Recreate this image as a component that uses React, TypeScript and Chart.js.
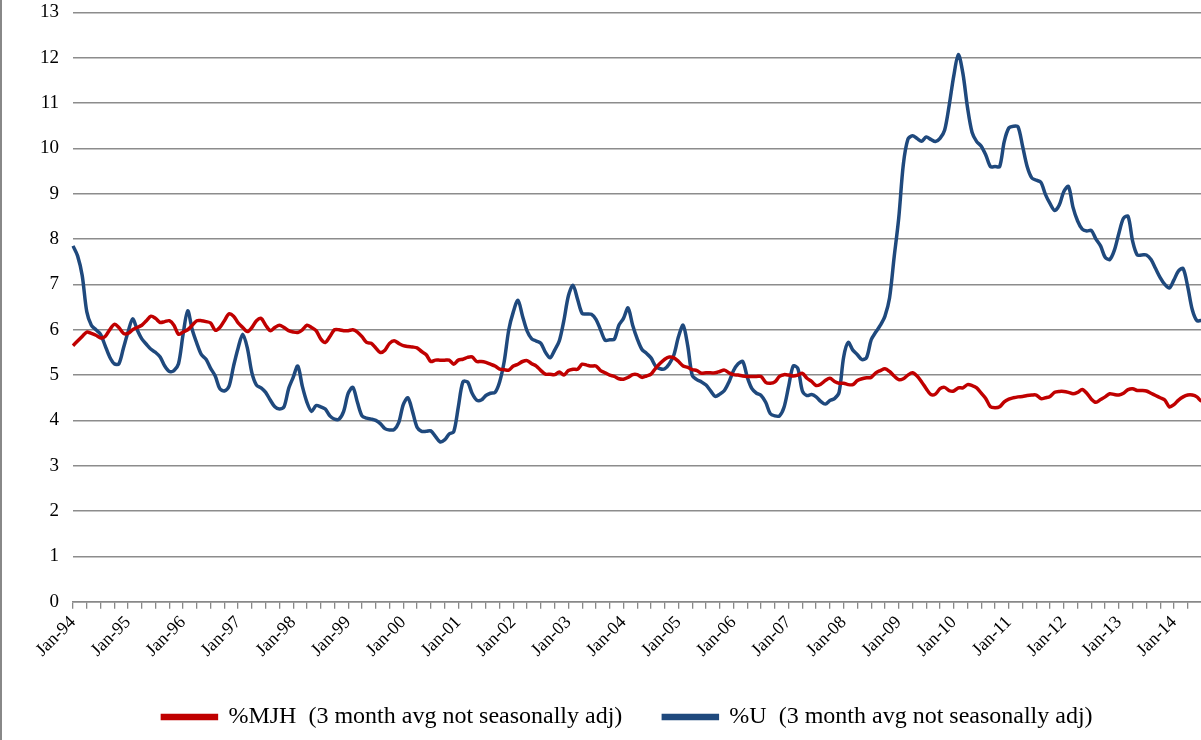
import React, { useEffect, useRef } from 'react';
import { Chart, registerables } from 'chart.js';

Chart.register(...registerables);

const years = ['94', '95', '96', '97', '98', '99', '00', '01', '02', '03', '04', '05', '06', '07', '08', '09', '10', '11', '12', '13', '14', '15'];
const months = ['Jan', 'Feb', 'Mar', 'Apr', 'May', 'Jun', 'Jul', 'Aug', 'Sep', 'Oct', 'Nov', 'Dec'];

// %MJH (3 month avg not seasonally adj), Jan-94 .. Jan-15
const mjh = [
  5.65, 5.75, 5.85, 5.95, 5.92, 5.88, 5.82, 5.85, 6.0, 6.12, 6.05, 5.92,
  5.92, 6.0, 6.05, 6.1, 6.2, 6.3, 6.25, 6.16, 6.18, 6.2, 6.1, 5.9,
  5.95, 6.0, 6.1, 6.2, 6.2, 6.18, 6.15, 5.99, 6.05, 6.2, 6.35, 6.3,
  6.15, 6.05, 5.96, 6.05, 6.2, 6.25, 6.1, 5.98, 6.05, 6.1, 6.05, 5.98,
  5.95, 5.94, 6.0, 6.1, 6.05, 5.98, 5.8, 5.72, 5.85, 6.0, 6.0, 5.98,
  5.98, 6.0, 5.95, 5.85, 5.72, 5.7, 5.6, 5.5, 5.55, 5.7, 5.76, 5.7,
  5.65, 5.63, 5.62, 5.6, 5.52, 5.45, 5.3, 5.33, 5.33, 5.33, 5.33, 5.24,
  5.33, 5.35, 5.39, 5.4, 5.3, 5.3, 5.28, 5.24, 5.2, 5.13, 5.12, 5.11,
  5.2, 5.24, 5.3, 5.32, 5.25, 5.2, 5.1, 5.02, 5.02, 5.01, 5.07, 5.0,
  5.1, 5.13, 5.13, 5.24, 5.22, 5.2, 5.2, 5.1, 5.05, 5.0, 4.97, 4.92,
  4.91, 4.95, 5.01, 5.01, 4.95, 4.98, 5.02, 5.15, 5.26, 5.35, 5.4, 5.38,
  5.3, 5.2, 5.17, 5.12, 5.1, 5.04, 5.05, 5.05, 5.05, 5.08, 5.11, 5.05,
  5.01, 5.0, 4.98, 4.97, 4.97, 4.97, 4.97, 4.84, 4.82, 4.85, 4.97, 5.01,
  5.0, 4.98, 5.0, 5.04, 4.93, 4.86, 4.77, 4.8, 4.88, 4.93, 4.86, 4.82,
  4.82, 4.79, 4.79, 4.88, 4.92, 4.94, 4.95, 5.05, 5.1, 5.14, 5.08, 4.98,
  4.9, 4.92, 5.0, 5.05, 4.98, 4.85, 4.7, 4.57, 4.58, 4.7, 4.73, 4.66,
  4.65, 4.72, 4.72, 4.79, 4.77, 4.72, 4.6, 4.48, 4.3, 4.28, 4.3, 4.41,
  4.47, 4.5, 4.52, 4.53, 4.55, 4.56, 4.56, 4.48, 4.5, 4.53, 4.62, 4.64,
  4.64, 4.62, 4.59, 4.62, 4.68, 4.6, 4.47, 4.4, 4.46, 4.52, 4.59, 4.57,
  4.56, 4.6, 4.68, 4.7, 4.66, 4.66, 4.65, 4.6, 4.55, 4.5, 4.45, 4.3,
  4.35, 4.45, 4.52, 4.56, 4.56, 4.52, 4.43, 4.5, 4.61, 4.64, 4.63, 4.6,
  4.57,
];

// %U (3 month avg not seasonally adj)
const unemp = [
  7.85, 7.63, 7.2, 6.4, 6.1, 6.0, 5.9, 5.65, 5.4, 5.25, 5.25, 5.6,
  5.95, 6.24, 6.0, 5.8, 5.68, 5.57, 5.5, 5.4, 5.2, 5.08, 5.1, 5.25,
  5.9, 6.42, 6.0, 5.7, 5.45, 5.35, 5.15, 4.98, 4.7, 4.65, 4.75, 5.2,
  5.6, 5.9, 5.6, 5.05, 4.78, 4.72, 4.62, 4.45, 4.3, 4.25, 4.3, 4.7,
  4.95, 5.2, 4.75, 4.4, 4.2, 4.33, 4.3, 4.25, 4.1, 4.03, 4.03, 4.2,
  4.6, 4.73, 4.4, 4.1, 4.05, 4.03, 4.0, 3.93, 3.82, 3.79, 3.8, 3.95,
  4.35, 4.5, 4.2, 3.85, 3.76, 3.76, 3.77, 3.65, 3.53, 3.57, 3.7, 3.75,
  4.3, 4.85, 4.85, 4.6, 4.45, 4.45, 4.55, 4.6, 4.62, 4.85, 5.3, 6.0,
  6.4, 6.65, 6.3, 5.97, 5.8, 5.75, 5.7, 5.5, 5.38, 5.55, 5.75, 6.2,
  6.75, 6.98, 6.67, 6.36, 6.35, 6.34, 6.23, 6.0, 5.77, 5.78, 5.79, 6.1,
  6.25, 6.48, 6.1, 5.8, 5.57, 5.48, 5.38, 5.2, 5.14, 5.14, 5.25, 5.45,
  5.85, 6.1, 5.65, 4.99, 4.9, 4.85, 4.78, 4.65, 4.53, 4.58, 4.66, 4.85,
  5.1, 5.25, 5.3, 4.95, 4.7, 4.6, 4.55, 4.4, 4.15, 4.1, 4.1, 4.29,
  4.75, 5.2, 5.15, 4.65, 4.55, 4.57, 4.52, 4.42, 4.36, 4.44, 4.48, 4.62,
  5.4, 5.72, 5.55, 5.45, 5.34, 5.39, 5.78, 5.95, 6.1, 6.3, 6.7, 7.6,
  8.46, 9.64, 10.2, 10.28, 10.22, 10.16, 10.25, 10.2, 10.15, 10.22, 10.4, 10.95,
  11.6, 12.07, 11.65, 10.9, 10.35, 10.15, 10.05, 9.85, 9.6, 9.6, 9.6, 10.15,
  10.45, 10.49, 10.48, 10.05, 9.6, 9.35, 9.3, 9.25, 8.98, 8.78, 8.63, 8.75,
  9.05, 9.16, 8.7, 8.4, 8.22, 8.18, 8.19, 8.0, 7.85, 7.6, 7.55, 7.75,
  8.13, 8.46, 8.5, 7.95, 7.65, 7.65, 7.65, 7.55, 7.35, 7.15, 7.0, 6.92,
  7.1, 7.3, 7.35, 6.95, 6.44, 6.2, 6.2, 6.1, 5.75, 5.5, 5.45, 5.56,
  5.96,
];

const labels = mjh.map((_, i) => `${months[i % 12]}-${years[Math.floor(i / 12)]}`);

const serif = '"Liberation Serif", "Times New Roman", serif';

const App = () => {
  const chartRef = useRef<HTMLCanvasElement | null>(null);

  useEffect(() => {
    if (!chartRef.current) return;
    const ctx = chartRef.current.getContext('2d');
    if (!ctx) return;

    const myChart = new Chart(ctx, {
      type: 'line',
      data: {
        labels,
        datasets: [
          {
            label: '%MJH  (3 month avg not seasonally adj)',
            data: mjh,
            borderColor: '#C00000',
            backgroundColor: '#C00000',
            borderWidth: 3.5,
            pointRadius: 0,
            tension: 0.3,
          },
          {
            label: '%U  (3 month avg not seasonally adj)',
            data: unemp,
            borderColor: '#1F497D',
            backgroundColor: '#1F497D',
            borderWidth: 3.5,
            pointRadius: 0,
            tension: 0.3,
          },
        ],
      },
      options: {
        animation: false,
        responsive: false,
        layout: { padding: { left: 24, top: 0, right: 37, bottom: 0 } },
        plugins: {
          tooltip: { enabled: false },
          legend: {
            position: 'bottom',
            labels: {
              boxWidth: 54,
              boxHeight: 3,
              padding: 41,
              color: '#000',
              font: { family: serif, size: 24 },
            },
          },
        },
        scales: {
          x: {
            offset: false,
            border: { color: '#888', width: 1.5 },
            grid: {
              drawOnChartArea: false,
              tickLength: 7,
              lineWidth: 1.3,
              color: (c: any) => (c.index % 3 === 0 ? '#888' : 'transparent'),
            },
            ticks: {
              autoSkip: false,
              maxRotation: 45,
              minRotation: 45,
              color: (c: any) => (c.index >= 252 ? 'transparent' : '#000'),
              font: { family: serif, size: 18 },
              callback: (_v: any, i: number) => (i % 12 === 0 ? labels[i] : ''),
            },
          },
          y: {
            min: 0,
            max: 13,
            border: { display: false },
            grid: { color: '#8c8c8c', lineWidth: 1.5, tickLength: 0 },
            ticks: {
              stepSize: 1,
              padding: 14,
              color: '#000',
              font: { family: serif, size: 19 },
            },
          },
        },
      },
    });

    return () => {
      myChart.destroy();
    };
  }, []);

  return (
    <div style={{ position: 'fixed', left: 0, top: 0, width: 1201, height: 740, overflow: 'hidden', borderLeft: '2px solid #888', boxSizing: 'border-box', background: '#fff' }}>
      <canvas ref={chartRef} width={1264} height={752} style={{ marginTop: -13, display: 'block' }}></canvas>
    </div>
  );
};

export default App;
